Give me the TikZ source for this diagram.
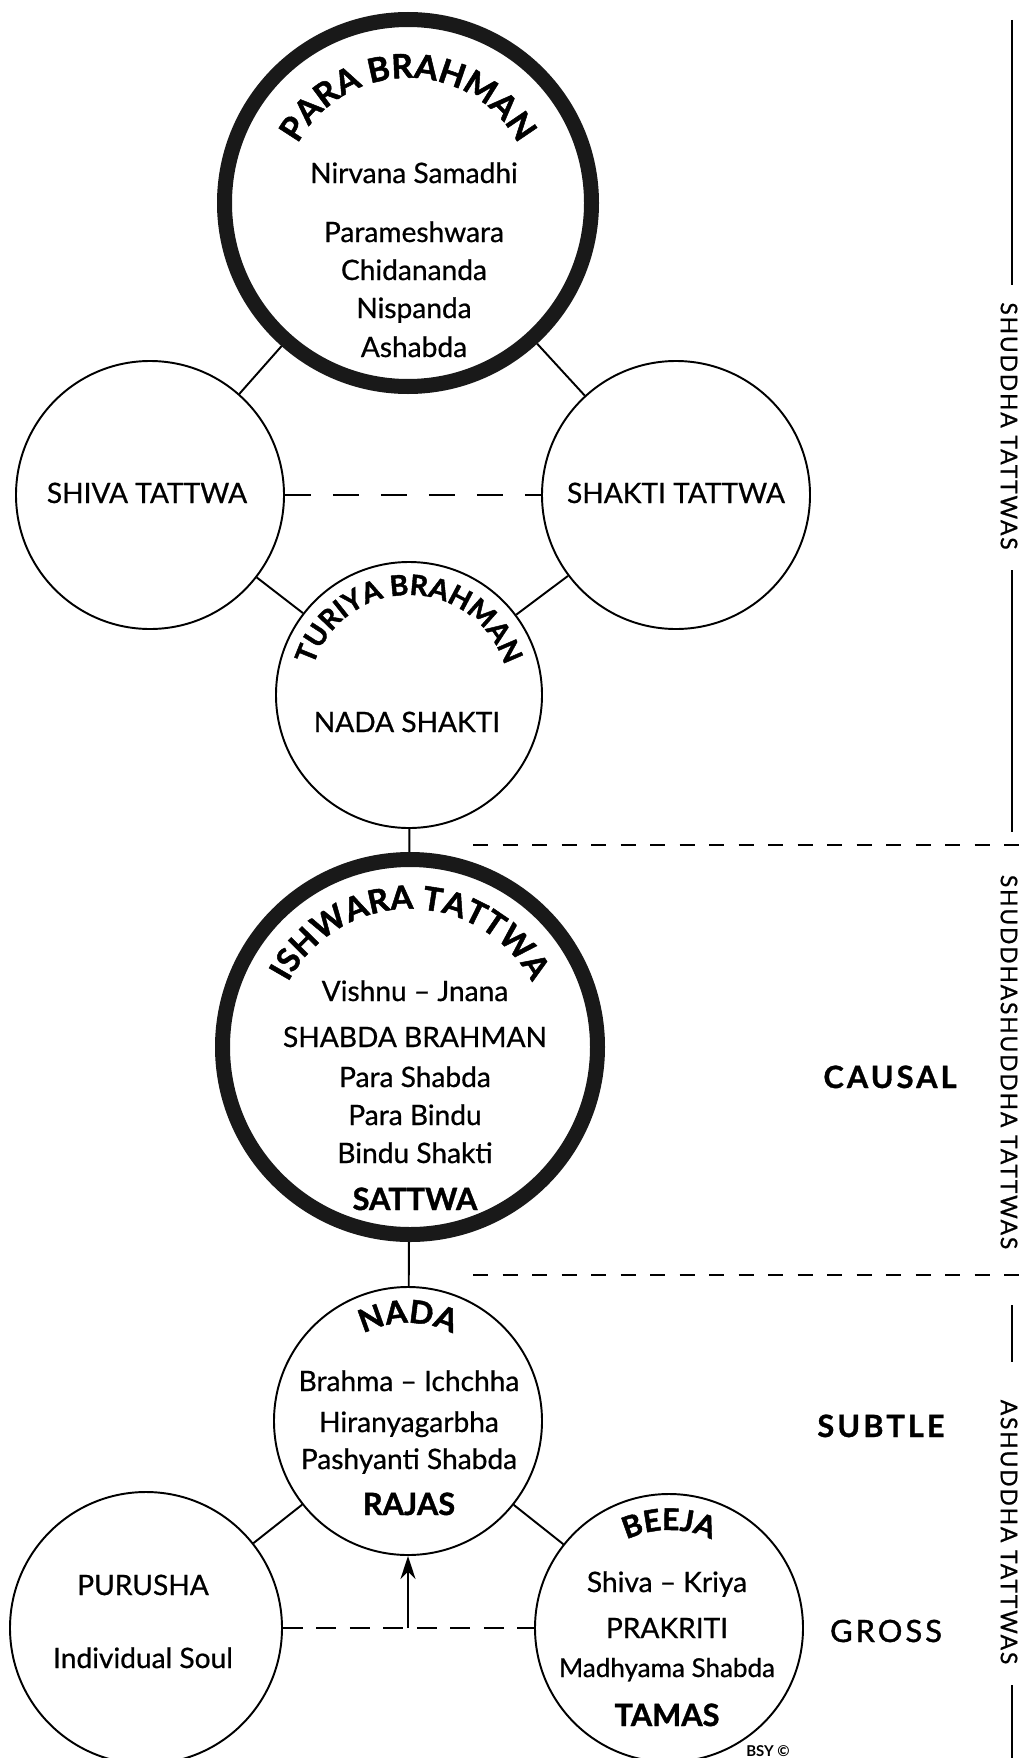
\documentclass[tikz,border=0pt]{standalone}
\usepackage{fontspec}
\setmainfont{Lato}
\usepackage{tikz}
\usetikzlibrary{arrows.meta, decorations.text}

\begin{document}
\begin{tikzpicture}[>=Stealth,
        ring/.style={circle, draw=black!90, line width=0.3cm, minimum size=#1, inner sep=0pt},
        disc/.style={circle, draw, line width=1.1pt, minimum size=#1, inner sep=0pt},
        body/.style={anchor=base, font=\fontsize{16}{19}\selectfont\addfontfeatures{FakeBold=0.7}},
        heavy/.style={anchor=base, font=\bfseries\fontsize{17.5}{20}\selectfont\addfontfeatures{FakeBold=1.2}},
        band/.style={anchor=base, font=\fontsize{17.5}{20}\selectfont\addfontfeatures{LetterSpace=10, FakeBold=1.4}},
        bandbold/.style={anchor=base, font=\bfseries\fontsize{17.5}{20}\selectfont\addfontfeatures{LetterSpace=10, FakeBold=1}},
        side/.style={rotate=-90, font=\fontsize{13}{15}\selectfont\addfontfeatures{LetterSpace=8, FakeBold=0.8}},
        link/.style={line width=1.1pt},
        pairdash/.style={line width=1.3pt, dash pattern=on 0.52cm off 0.44cm},
        lowdash/.style={line width=1.3pt, dash pattern=on 0.40cm off 0.27cm},
        rulerdash/.style={line width=1.3pt, dash pattern=on 0.30cm off 0.29cm}]
        \useasboundingbox (0,0) rectangle (20.52,-35.16);

        % Circles
        \node[ring=7.34cm] (para) at (8.16,-4.06) {};
        \node[disc=5.36cm] (shiva) at (3.00,-9.90) {};
        \node[disc=5.36cm] (shakti) at (13.52,-9.90) {};
        \node[disc=5.32cm] (turiya) at (8.18,-13.90) {};
        \node[ring=7.50cm] (ishwara) at (8.20,-20.94) {};
        \node[disc=5.36cm] (nada) at (8.16,-28.42) {};
        \node[disc=5.44cm] (purusha) at (2.92,-32.56) {};
        \node[disc=5.36cm] (beeja) at (13.38,-32.56) {};

        % Curved titles
        \path[decorate, decoration={text along path, text align=center, text={|\bfseries\fontsize{19}{21}\selectfont\addfontfeatures{FakeBold=1.5}|PARA BRAHMAN}}] ([shift={(165:2.50)}]para.center) arc[start angle=165, end angle=15, radius=2.50];
        \path[decorate, decoration={text along path, text align=center, text={|\bfseries\fontsize{16}{19}\selectfont\addfontfeatures{FakeBold=1.5}|TURIYA BRAHMAN}}] ([shift={(178:2.00)}]turiya.center) arc[start angle=178, end angle=2, radius=2.00];
        \path[decorate, decoration={text along path, text align=center, text={|\bfseries\fontsize{18.5}{21}\selectfont\addfontfeatures{FakeBold=1.5}|ISHWARA TATTWA}}] ([shift={(165:2.76)}]ishwara.center) arc[start angle=165, end angle=15, radius=2.76];
        \path[decorate, decoration={text along path, text align=center, text={|\bfseries\fontsize{18}{20}\selectfont\addfontfeatures{FakeBold=1.5}|NADA}}] ([shift={(150:1.96)}]nada.center) arc[start angle=150, end angle=30, radius=1.96];
        \path[decorate, decoration={text along path, text align=center, text={|\bfseries\fontsize{17}{20}\selectfont\addfontfeatures{FakeBold=1.5}|BEEJA}}] ([shift={(150:1.96)}]beeja.center) arc[start angle=150, end angle=30, radius=1.96];

        % Para Brahman
        \node[body] (nirvana) at (8.28,-3.66) {Nirvana Samadhi};
        \node[body] (paramesh) at (8.28,-4.84) {Parameshwara};
        \node[body] (chidananda) at (8.28,-5.60) {Chidananda};
        \node[body] (nispanda) at (8.28,-6.36) {Nispanda};
        \node[body] (ashabda) at (8.28,-7.14) {Ashabda};

        % Shiva, Shakti, Turiya
        \node[body] (shivatext) at (2.94,-10.06) {SHIVA TATTWA};
        \node[body] (shaktitext) at (13.52,-10.06) {SHAKTI TATTWA};
        \node[body] (nadashakti) at (8.14,-14.64) {NADA SHAKTI};

        % Ishwara Tattwa
        \node[body] (vishnu) at (8.30,-20.02) {Vishnu – Jnana};
        \node[body] (shabdabr) at (8.30,-20.94) {SHABDA BRAHMAN};
        \node[body] (parashabda) at (8.30,-21.74) {Para Shabda};
        \node[body] (parabindu) at (8.30,-22.50) {Para Bindu};
        \node[body] (bindushakti) at (8.30,-23.26) {Bindu Shakti};
        \node[heavy] (sattwa) at (8.30,-24.20) {SATTWA};

        % Nada
        \node[body] (brahma) at (8.18,-27.82) {Brahma – Ichchha};
        \node[body] (hiranya) at (8.18,-28.64) {Hiranyagarbha};
        \node[body] (pashyanti) at (8.18,-29.38) {Pashyanti Shabda};
        \node[heavy] (rajas) at (8.18,-30.30) {RAJAS};

        % Purusha and Beeja
        \node[body] (purushatext) at (2.86,-31.90) {PURUSHA};
        \node[body] (soul) at (2.86,-33.36) {Individual Soul};
        \node[body] (kriya) at (13.34,-31.84) {Shiva – Kriya};
        \node[body] (prakriti) at (13.34,-32.76) {PRAKRITI};
        \node[body, font=\fontsize{14.8}{18}\selectfont\addfontfeatures{FakeBold=0.7}] (madhyama) at (13.34,-33.54) {Madhyama Shabda};
        \node[heavy] (tamas) at (13.34,-34.52) {TAMAS};
        \node[anchor=base, font=\bfseries\fontsize{8.5}{10}\selectfont] (bsy) at (15.36,-35.12) {BSY ©};

        % Levels
        \node[bandbold] (causal) at (17.80,-21.76) {CAUSAL};
        \node[bandbold] (subtle) at (17.62,-28.74) {SUBTLE};
        \node[band] (gross) at (17.72,-32.84) {GROSS};

        % Connectors
        \draw[link] (para) -- (shiva);
        \draw[link] (para) -- (shakti);
        \draw[link] (shiva) -- (turiya);
        \draw[link] (shakti) -- (turiya);
        \draw[pairdash] (shiva) -- (shakti);
        \draw[link] (turiya) -- (ishwara);
        \draw[link] (ishwara) -- (nada);
        \draw[link] (nada) -- (purusha);
        \draw[link] (nada) -- (beeja);
        \draw[lowdash] (purusha) -- (beeja);
        \coordinate (rise) at (nada.south |- purusha.east);
        \draw[link, -{Stealth[length=0.46cm, width=0.30cm]}] (rise) -- (nada);

        % Dividers and side labels
        \draw[rulerdash] (9.46,-16.90) -- (20.52,-16.90);
        \draw[rulerdash] (9.46,-25.50) -- (20.52,-25.50);
        \node[side] (shuddha) at (20.18,-8.52) {SHUDDHA TATTWAS};
        \node[side] (mixed) at (20.18,-21.24) {SHUDDHASHUDDHA TATTWAS};
        \node[side] (ashuddha) at (20.18,-30.64) {ASHUDDHA TATTWAS};
        \draw[link] (20.24,-0.40) -- (20.24,-5.70);
        \draw[link] (20.24,-11.40) -- (20.24,-16.64);
        \draw[link] (20.24,-26.10) -- (20.24,-27.24);
        \draw[link] (20.24,-33.70) -- (20.24,-35.16);
\end{tikzpicture}
\end{document}
